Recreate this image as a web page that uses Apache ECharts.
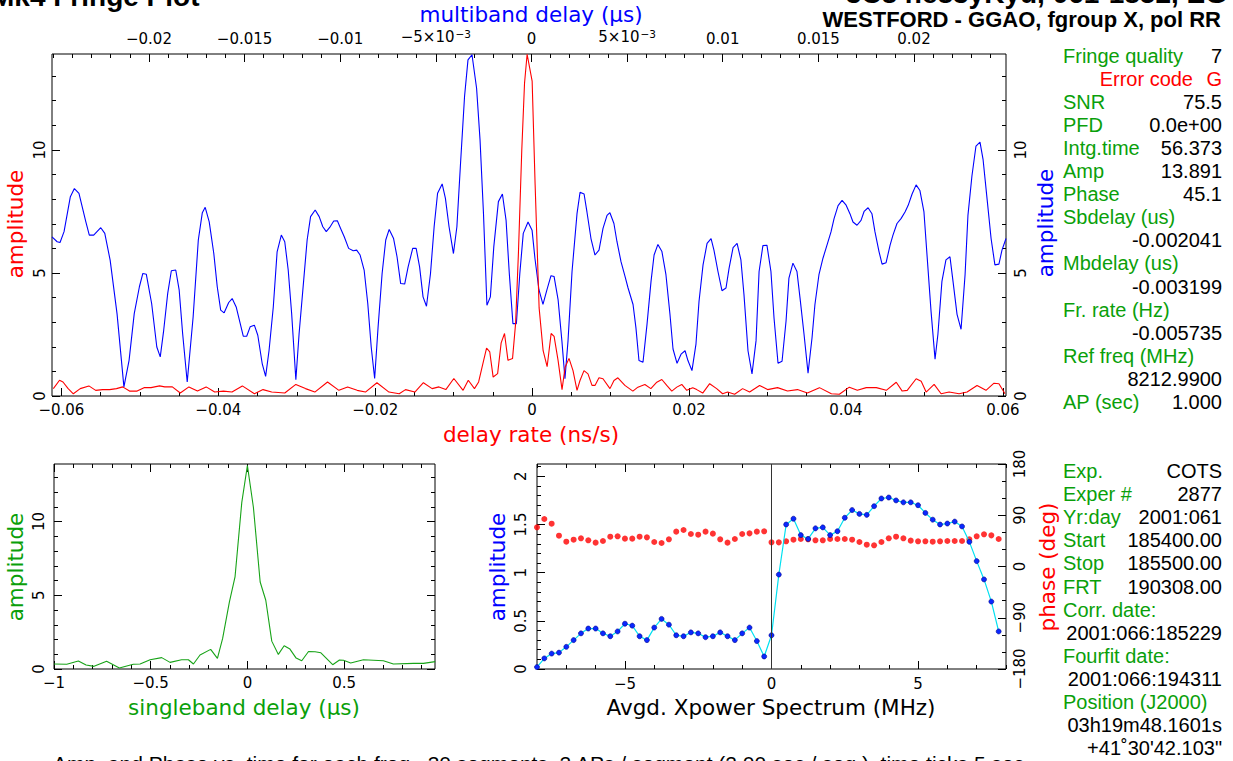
<!DOCTYPE html>
<html><head><meta charset="utf-8">
<script src="https://cdn.jsdelivr.net/npm/echarts@6/dist/echarts.min.js"></script>
<style>html,body{margin:0;padding:0;background:#fff}#c{width:1233px;height:761px}</style>
</head><body><div id="c"></div>
<script>
// ---------------- DATA ----------------
// delay-rate spectrum (ns/s, amplitude) - red
const rateCurve = [[-0.06103,0.30],[-0.06024,0.64],[-0.05980,0.57],[-0.05914,0.30],[-0.05848,0.09],[-0.05760,0.30],[-0.05650,0.41],[-0.05563,0.23],[-0.05475,0.26],[-0.05386,0.26],[-0.05298,0.30],[-0.05219,0.37],[-0.05132,0.20],[-0.05035,0.20],[-0.04947,0.34],[-0.04858,0.34],[-0.04749,0.41],[-0.04683,0.37],[-0.04586,0.37],[-0.04485,0.12],[-0.04375,0.37],[-0.04266,0.20],[-0.04155,0.37],[-0.04046,0.16],[-0.03935,0.20],[-0.03826,0.16],[-0.03694,0.41],[-0.03540,0.09],[-0.03430,0.26],[-0.03320,0.16],[-0.03153,0.12],[-0.03012,0.47],[-0.02889,0.30],[-0.02770,0.16],[-0.02608,0.57],[-0.02463,0.23],[-0.02352,0.37],[-0.02230,0.23],[-0.02125,0.16],[-0.01978,0.54],[-0.01825,0.16],[-0.01694,0.09],[-0.01614,0.26],[-0.01495,0.16],[-0.01386,0.54],[-0.01275,0.30],[-0.01188,0.37],[-0.01100,0.26],[-0.00998,0.71],[-0.00880,0.23],[-0.00814,0.64],[-0.00735,0.30],[-0.00682,0.57],[-0.00615,1.49],[-0.00581,1.95],[-0.00540,1.79],[-0.00497,0.77],[-0.00440,0.91],[-0.00395,2.16],[-0.00352,2.54],[-0.00308,1.45],[-0.00250,1.52],[-0.00211,2.94],[-0.00175,5.79],[-0.00132,10.0],[-0.00097,12.71],[-0.00064,13.89],[0,12.8],[0.00038,8.6],[0.00089,3.58],[0.00140,1.84],[0.00191,1.19],[0.00242,2.54],[0.00280,2.42],[0.00331,1.44],[0.00381,0.26],[0.00420,1.17],[0.00470,1.53],[0.00521,1.03],[0.00572,0.23],[0.00610,0.63],[0.00661,1.03],[0.00712,0.90],[0.00763,0.43],[0.00801,0.43],[0.00852,0.74],[0.00903,0.70],[0.00992,0.30],[0.01043,0.63],[0.01093,0.74],[0.01182,0.43],[0.01284,0.20],[0.01348,0.36],[0.01437,0.47],[0.01513,0.30],[0.01589,0.56],[0.01653,0.67],[0.01716,0.43],[0.01780,0.20],[0.01844,0.36],[0.01907,0.47],[0.01971,0.23],[0.02047,0.34],[0.02098,0.26],[0.02174,0.12],[0.02263,0.50],[0.02352,0.30],[0.02428,0.09],[0.02492,0.16],[0.02581,0.07],[0.02683,0.30],[0.02772,0.16],[0.02899,0.43],[0.03001,0.26],[0.03128,0.34],[0.03255,0.20],[0.03382,0.26],[0.03509,0.12],[0.03662,0.34],[0.03814,0.09],[0.03916,0.07],[0.04043,0.36],[0.04145,0.23],[0.04259,0.34],[0.04387,0.34],[0.04514,0.23],[0.04641,0.56],[0.04717,0.20],[0.04781,0.23],[0.04895,0.70],[0.04959,0.60],[0.05022,0.16],[0.05124,0.47],[0.05213,0.09],[0.05315,0.16],[0.05442,0.09],[0.05544,0.16],[0.05671,0.43],[0.05785,0.23],[0.05887,0.52],[0.05950,0.50],[0.06027,0.09]];

// multiband delay function (us, amplitude) - blue
const mbdCurve = [[-0.02507,6.47],[-0.02480,6.27],[-0.02465,6.24],[-0.02444,6.68],[-0.02411,8.10],[-0.02390,8.43],[-0.02366,8.24],[-0.02330,7.08],[-0.02312,6.54],[-0.02289,6.54],[-0.02252,6.84],[-0.02231,6.61],[-0.02203,5.52],[-0.02167,3.35],[-0.02131,0.37],[-0.02104,1.45],[-0.02077,3.35],[-0.02050,4.44],[-0.02032,4.98],[-0.02014,4.95],[-0.01986,3.76],[-0.01959,1.99],[-0.01941,1.59],[-0.01923,2.67],[-0.01902,4.17],[-0.01883,5.09],[-0.01860,5.12],[-0.01842,4.30],[-0.01824,2.54],[-0.01800,0.57],[-0.01769,3.22],[-0.01742,6.34],[-0.01721,7.45],[-0.01706,7.67],[-0.01685,7.08],[-0.01661,5.79],[-0.01643,4.44],[-0.01625,3.49],[-0.01607,3.38],[-0.01583,3.80],[-0.01565,3.96],[-0.01544,3.62],[-0.01525,3.01],[-0.01507,2.43],[-0.01489,2.43],[-0.01471,2.81],[-0.01449,2.88],[-0.01431,2.47],[-0.01408,1.32],[-0.01390,0.80],[-0.01372,1.86],[-0.01350,3.62],[-0.01330,5.86],[-0.01308,6.54],[-0.01290,6.27],[-0.01272,5.12],[-0.01254,3.35],[-0.01232,0.66],[-0.01215,2.54],[-0.01191,4.71],[-0.01173,6.34],[-0.01155,7.29],[-0.01131,7.56],[-0.01110,7.29],[-0.01091,6.88],[-0.01073,6.68],[-0.01055,6.85],[-0.01034,7.11],[-0.01015,7.12],[-0.00998,6.81],[-0.00979,6.47],[-0.00956,6.00],[-0.00932,5.90],[-0.00914,5.93],[-0.00896,5.73],[-0.00875,5.12],[-0.00856,3.76],[-0.00838,1.99],[-0.00820,0.71],[-0.00802,2.81],[-0.00781,4.98],[-0.00762,6.34],[-0.00744,6.77],[-0.00721,6.40],[-0.00703,5.66],[-0.00684,4.57],[-0.00663,4.55],[-0.00645,5.25],[-0.00621,6.00],[-0.00603,6.00],[-0.00585,5.25],[-0.00567,4.03],[-0.00549,3.65],[-0.00528,4.98],[-0.00509,6.88],[-0.00491,8.24],[-0.00467,8.62],[-0.00450,8.03],[-0.00431,6.88],[-0.00408,5.79],[-0.00390,6.88],[-0.00372,9.32],[-0.00350,12.17],[-0.00332,13.66],[-0.00311,13.87],[-0.00287,12.51],[-0.00269,10.41],[-0.00251,7.42],[-0.00233,3.69],[-0.00215,4.03],[-0.00197,6.07],[-0.00173,7.90],[-0.00152,8.21],[-0.00133,7.15],[-0.00116,4.98],[-0.00097,2.94],[-0.00079,2.94],[-0.00061,4.98],[-0.00043,6.61],[-0.00018,7.07],[0.00003,6.74],[0.00018,5.60],[0.00039,4.32],[0.00060,3.72],[0.00081,4.32],[0.00102,4.89],[0.00118,4.86],[0.00139,3.92],[0.00159,2.24],[0.00175,0.70],[0.00191,2.24],[0.00212,5.06],[0.00238,7.41],[0.00254,8.28],[0.00275,8.21],[0.00290,7.48],[0.00311,6.40],[0.00332,5.73],[0.00353,5.93],[0.00374,6.81],[0.00395,7.34],[0.00410,7.45],[0.00431,7.01],[0.00447,6.27],[0.00468,5.46],[0.00489,4.86],[0.00505,4.39],[0.00531,3.72],[0.00546,2.78],[0.00562,1.44],[0.00583,1.37],[0.00604,2.91],[0.00625,4.66],[0.00641,5.73],[0.00661,6.16],[0.00682,5.87],[0.00703,4.93],[0.00724,3.32],[0.00740,1.91],[0.00761,1.33],[0.00782,1.70],[0.00803,1.84],[0.00818,1.44],[0.00839,1.03],[0.00860,2.11],[0.00876,3.85],[0.00897,5.33],[0.00918,6.20],[0.00939,6.40],[0.00954,5.93],[0.00975,5.06],[0.00996,4.28],[0.01017,4.39],[0.01033,5.19],[0.01054,6.03],[0.01075,6.20],[0.01095,5.53],[0.01111,4.12],[0.01132,1.84],[0.01153,0.90],[0.01174,2.24],[0.01190,5.06],[0.01210,6.11],[0.01231,6.13],[0.01252,5.06],[0.01268,3.18],[0.01289,1.33],[0.01310,1.41],[0.01331,3.05],[0.01346,4.79],[0.01367,5.40],[0.01388,5.06],[0.01404,3.99],[0.01425,2.51],[0.01446,0.93],[0.01467,2.38],[0.01482,3.72],[0.01503,4.93],[0.01524,5.60],[0.01545,6.13],[0.01566,6.67],[0.01582,7.21],[0.01603,7.74],[0.01624,7.95],[0.01644,7.77],[0.01665,7.41],[0.01681,7.07],[0.01702,6.94],[0.01723,7.14],[0.01739,7.50],[0.01760,7.65],[0.01780,7.41],[0.01796,6.67],[0.01817,5.87],[0.01833,5.36],[0.01854,5.42],[0.01875,6.13],[0.01890,6.54],[0.01911,7.01],[0.01932,7.21],[0.01953,7.48],[0.01969,7.74],[0.01990,8.21],[0.02011,8.58],[0.02031,8.35],[0.02052,7.48],[0.02068,5.73],[0.02089,3.45],[0.02110,1.50],[0.02125,2.51],[0.02146,4.66],[0.02167,5.53],[0.02188,5.66],[0.02204,4.66],[0.02225,3.32],[0.02246,2.71],[0.02267,4.93],[0.02282,7.34],[0.02303,8.95],[0.02324,10.16],[0.02345,10.32],[0.02361,9.62],[0.02382,8.01],[0.02403,6.40],[0.02423,5.33],[0.02444,5.36],[0.02460,5.93],[0.02481,6.40]];

// singleband delay function (us, amplitude) - green
const sbdCurve = [[-1.0,0.34],[-0.934,0.32],[-0.874,0.54],[-0.834,0.27],[-0.793,0.18],[-0.728,0.52],[-0.662,0.07],[-0.59,0.32],[-0.555,0.34],[-0.503,0.63],[-0.443,0.77],[-0.4,0.45],[-0.34,0.63],[-0.305,0.63],[-0.279,0.34],[-0.245,0.95],[-0.19,1.33],[-0.155,0.72],[-0.128,2.07],[-0.093,4.55],[-0.064,6.24],[-0.029,11.3],[0,13.8],[0.031,10.97],[0.066,5.9],[0.095,4.66],[0.126,1.89],[0.16,0.99],[0.19,1.58],[0.22,1.35],[0.252,0.74],[0.281,0.56],[0.316,1.19],[0.35,1.17],[0.38,1.10],[0.441,0.29],[0.476,0.61],[0.497,0.59],[0.534,0.41],[0.6,0.63],[0.703,0.56],[0.755,0.34],[0.859,0.38],[0.91,0.38],[0.971,0.50]];

// cross-power spectrum
const freqMHz = [-8,-7.75,-7.5,-7.25,-7,-6.75,-6.5,-6.25,-6,-5.75,-5.5,-5.25,-5,-4.75,-4.5,-4.25,-4,-3.75,-3.5,-3.25,-3,-2.75,-2.5,-2.25,-2,-1.75,-1.5,-1.25,-1,-0.75,-0.5,-0.25,0,0.25,0.5,0.75,1,1.25,1.5,1.75,2,2.25,2.5,2.75,3,3.25,3.5,3.75,4,4.25,4.5,4.75,5,5.25,5.5,5.75,6,6.25,6.5,6.75,7,7.25,7.5,7.75];
const xpAmp = [0.02,0.11,0.16,0.17,0.23,0.30,0.37,0.42,0.42,0.37,0.34,0.39,0.47,0.45,0.34,0.30,0.43,0.52,0.46,0.35,0.34,0.38,0.37,0.33,0.34,0.38,0.34,0.30,0.37,0.43,0.29,0.13,0.35,0.98,1.50,1.56,1.39,1.35,1.46,1.47,1.39,1.43,1.57,1.65,1.61,1.60,1.69,1.77,1.78,1.75,1.73,1.73,1.70,1.62,1.55,1.50,1.51,1.53,1.48,1.32,1.12,0.93,0.70,0.39];
const xpPhase = [68.8,83.4,75.2,54.1,43.6,47.1,49.5,46.0,41.9,44.8,52.4,53.0,48.9,48.9,52.4,51.2,43.0,41.3,47.7,61.2,64.1,57.1,55.9,61.2,57.7,47.7,41.9,48.3,57.1,58.2,61.2,61.8,42.4,42.4,44.2,47.1,48.3,47.7,46.0,46.0,48.3,48.3,48.3,47.1,43.0,38.3,37.2,43.0,49.5,52.4,49.5,45.4,44.2,44.2,43.6,44.2,44.8,44.8,44.8,47.7,53.0,56.5,54.7,48.3];

// tick labels
const rateTicks = [-0.06,-0.04,-0.02,0,0.02,0.04,0.06];
const mbdTicks = [-0.02,-0.015,-0.01,-0.005,0,0.005,0.01,0.015,0.02];
const ampTicks = [0,5,10];
const sbdTicks = [-1,-0.5,0,0.5];
const freqTicks = [-5,0,5];
const xpAmpTicks = [0,0.5,1,1.5,2];
const phaseTicks = [-180,-90,0,90,180];

// text panels
const infoTop = [['Fringe quality','7'],['Error code','G'],['SNR','75.5'],['PFD','0.0e+00'],['Intg.time','56.373'],['Amp','13.891'],['Phase','45.1'],['Sbdelay (us)',''],['','-0.002041'],['Mbdelay (us)',''],['','-0.003199'],['Fr. rate (Hz)',''],['','-0.005735'],['Ref freq (MHz)',''],['','8212.9900'],['AP (sec)','1.000']];
const infoBottom = [['Exp.','COTS'],['Exper #','2877'],['Yr:day','2001:061'],['Start','185400.00'],['Stop','185500.00'],['FRT','190308.00'],['Corr. date:',''],['','2001:066:185229'],['Fourfit date:',''],['','2001:066:194311'],['Position (J2000)',''],['','03h19m48.1601s'],['','+41\u02DA30\'42.103"']];

// ---------------- BUILD ----------------
const HF = "'DejaVu Sans', sans-serif";
const AF = "'Liberation Sans', Arial, sans-serif";
const GREEN = '#0a9f0a';
const TS = 21.5; // axis title size
function seq(a, b, s) { const r = []; for (let v = a; v <= b + s * 1e-6; v += s) r.push(+v.toFixed(6)); return r; }
function fmt(v) { return v < 0 ? '\u2212' + String(+(-v).toFixed(6)) : String(+v.toFixed(6)); }
function fmtMbd(v) {
  if (Math.abs(Math.abs(v) - 0.005) < 1e-9) return (v < 0 ? '\u2212' : '') + '5\u00D710{sup|\u22123}';
  return fmt(v);
}
const xAxes = [], yAxes = [];
function axis(list, grid, pos, min, max, ticks, len, label) {
  list.push({
    type: 'value', gridIndex: grid, position: pos, min: min, max: max, silent: true, offset: 0,
    splitLine: {show: false}, splitArea: {show: false}, axisLine: {show: false, onZero: false},
    axisPointer: {show: false},
    axisTick: {show: true, inside: true, length: len, customValues: ticks, lineStyle: {color: '#000', width: 1}},
    axisLabel: label ? Object.assign({show: true, customValues: ticks, color: '#000', fontFamily: HF, fontSize: 15, formatter: fmt}, label) : {show: false}
  });
  return list.length - 1;
}
function minorsOf(a, b, s, majors) { return seq(a, b, s).filter(v => !majors.some(m => Math.abs(m - v) < 1e-9)); }

// grid 0 (top)
const R = [-0.0612, 0.0604], M = [-0.02507, 0.02481], A = [0, 13.9];
const xRate = axis(xAxes, 0, 'bottom', R[0], R[1], rateTicks, 8, {margin: 6});
axis(xAxes, 0, 'bottom', R[0], R[1], minorsOf(-0.06, 0.06, 0.005, rateTicks), 4);
const xMbd = axis(xAxes, 0, 'top', M[0], M[1], mbdTicks, 8, {margin: 8, formatter: fmtMbd, rich: {sup: {fontSize: 10.5, fontFamily: HF, color: '#000', verticalAlign: 'top', padding: [0, 0, 7, 1]}}});
axis(xAxes, 0, 'top', M[0], M[1], minorsOf(-0.025, 0.025, 0.001, mbdTicks), 4);
const yAmpL = axis(yAxes, 0, 'left', A[0], A[1], ampTicks, 8, {rotate: 90, margin: 5});
axis(yAxes, 0, 'left', A[0], A[1], minorsOf(0, 13, 1, ampTicks), 4);
const yAmpR = axis(yAxes, 0, 'right', A[0], A[1], ampTicks, 8, {rotate: 90, margin: 7});
axis(yAxes, 0, 'right', A[0], A[1], minorsOf(0, 13, 1, ampTicks), 4);

// grid 1 (singleband)
const S = [-1, 0.97];
const xSbd = axis(xAxes, 1, 'bottom', S[0], S[1], sbdTicks, 8, {margin: 6});
axis(xAxes, 1, 'bottom', S[0], S[1], minorsOf(-1, 0.9, 0.1, sbdTicks), 4);
axis(xAxes, 1, 'top', S[0], S[1], sbdTicks, 8);
axis(xAxes, 1, 'top', S[0], S[1], minorsOf(-1, 0.9, 0.1, sbdTicks), 4);
const ySbd = axis(yAxes, 1, 'left', A[0], A[1], ampTicks, 8, {rotate: 90, margin: 8});
axis(yAxes, 1, 'left', A[0], A[1], minorsOf(0, 13, 1, ampTicks), 4);
axis(yAxes, 1, 'right', A[0], A[1], ampTicks, 8);
axis(yAxes, 1, 'right', A[0], A[1], minorsOf(0, 13, 1, ampTicks), 4);

// grid 2 (xpower)
const F = [-8, 8], XA = [0, 2.128], PH = [-180, 180];
const xFreq = axis(xAxes, 2, 'bottom', F[0], F[1], freqTicks, 8, {margin: 7});
axis(xAxes, 2, 'bottom', F[0], F[1], minorsOf(-8, 8, 1, freqTicks), 4);
axis(xAxes, 2, 'top', F[0], F[1], freqTicks, 8);
axis(xAxes, 2, 'top', F[0], F[1], minorsOf(-8, 8, 1, freqTicks), 4);
const yXpA = axis(yAxes, 2, 'left', XA[0], XA[1], xpAmpTicks, 8, {rotate: 90, margin: 9});
axis(yAxes, 2, 'left', XA[0], XA[1], minorsOf(0, 2.1, 0.1, xpAmpTicks), 4);
const yPh = axis(yAxes, 2, 'right', PH[0], PH[1], phaseTicks, 8, {rotate: 90, margin: 6});
axis(yAxes, 2, 'right', PH[0], PH[1], minorsOf(-180, 180, 30, phaseTicks), 4);

const gridBase = {show: true, borderColor: '#000', borderWidth: 1, backgroundColor: 'rgba(0,0,0,0)', containLabel: false, outerBoundsMode: 'none'};
const grids = [
  Object.assign({left: 52, top: 54, width: 954, height: 342}, gridBase),
  Object.assign({left: 54, top: 464, width: 381, height: 205}, gridBase),
  Object.assign({left: 537, top: 464, width: 469, height: 205}, gridBase)
];

const series = [
  {type: 'line', name: 'mbd', xAxisIndex: xMbd, yAxisIndex: yAmpR, data: mbdCurve, showSymbol: false, symbol: 'none', lineStyle: {color: '#0000ff', width: 1.1}, silent: true},
  {type: 'line', name: 'rate', xAxisIndex: xRate, yAxisIndex: yAmpL, data: rateCurve, showSymbol: false, symbol: 'none', lineStyle: {color: '#ff0000', width: 1.1}, silent: true},
  {type: 'line', name: 'sbd', xAxisIndex: xSbd, yAxisIndex: ySbd, data: sbdCurve, showSymbol: false, symbol: 'none', lineStyle: {color: '#17a317', width: 1.1}, silent: true},
  {type: 'scatter', name: 'phase', xAxisIndex: xFreq, yAxisIndex: yPh, data: freqMHz.map((f, i) => [f, xpPhase[i]]), symbol: 'circle', symbolSize: 6, itemStyle: {color: '#ff0000'}, silent: true},
  {type: 'line', name: 'xamp', xAxisIndex: xFreq, yAxisIndex: yXpA, data: freqMHz.map((f, i) => [f, xpAmp[i]]), symbol: 'circle', symbolSize: 5, showSymbol: true,
   lineStyle: {color: '#00e0f0', width: 1.2}, itemStyle: {color: '#0a28ff', borderColor: '#00008a', borderWidth: 0.6}, silent: true,
   markLine: {silent: true, symbol: ['none', 'none'], label: {show: false}, lineStyle: {color: '#333', width: 1, type: 'solid'}, data: [{xAxis: 0}]}}
];

// texts
const G = [];
function T(s, x, y, o) {
  o = o || {};
  G.push({type: 'text', x: x, y: y, rotation: o.rot || 0, silent: true, z: 10,
    style: {text: s, fill: o.c || '#000', fontSize: o.fs || 20, fontFamily: o.ff || AF, fontWeight: o.fw || 'normal', align: o.a || 'left', verticalAlign: 'middle'}});
}
T('Mk4 Fringe Plot', -9, -4, {fs: 28, fw: 'bold'});
T('3C8 ne83yKyu, 061-1852, EG', 1227, -7, {fs: 28, fw: 'bold', a: 'right'});
T('WESTFORD - GGAO, fgroup X, pol RR', 1221, 19, {fs: 22, fw: 'bold', a: 'right'});
T('multiband delay (\u03BCs)', 531, 14, {fs: TS, ff: HF, c: '#0000ff', a: 'center'});
T('delay rate (ns/s)', 531, 434, {fs: TS, ff: HF, c: '#ff0000', a: 'center'});
T('amplitude', 15, 224, {fs: TS, ff: HF, c: '#ff0000', a: 'center', rot: Math.PI / 2});
T('amplitude', 1045, 223, {fs: TS, ff: HF, c: '#0000ff', a: 'center', rot: Math.PI / 2});
T('amplitude', 15, 567, {fs: TS, ff: HF, c: GREEN, a: 'center', rot: Math.PI / 2});
T('singleband delay (\u03BCs)', 244, 707, {fs: TS, ff: HF, c: GREEN, a: 'center'});
T('amplitude', 497, 567, {fs: TS, ff: HF, c: '#0000ff', a: 'center', rot: Math.PI / 2});
T('phase (deg)', 1047, 567, {fs: TS, ff: HF, c: '#ff0000', a: 'center', rot: Math.PI / 2});
T('Avgd. Xpower Spectrum (MHz)', 771, 707, {fs: TS, ff: HF, c: '#000', a: 'center'});
T('Amp. and Phase vs. time for each freq., 30 segments, 2 APs / segment (2.00 sec / seg.), time ticks 5 sec', 53, 763, {fs: 21});

infoTop.forEach((r, i) => {
  const y = 56 + i * 23.05;
  if (r[0] === 'Error code') {
    T(r[0], 1193, y, {c: '#ff0000', a: 'right'});
    T(r[1], 1222, y, {c: '#ff0000', a: 'right'});
    return;
  }
  if (r[0]) T(r[0], 1063, y, {c: GREEN});
  if (r[1]) T(r[1], 1222, y, {a: 'right'});
});
infoBottom.forEach((r, i) => {
  const y = 471 + i * 23.1;
  if (r[0]) T(r[0], 1063, y, {c: GREEN});
  if (r[1]) T(r[1], 1222, y, {a: 'right'});
});

const chart = echarts.init(document.getElementById('c'), null, {renderer: 'svg', width: 1233, height: 761});
chart.setOption({
  animation: false,
  backgroundColor: '#fff',
  grid: grids,
  xAxis: xAxes,
  yAxis: yAxes,
  series: series,
  graphic: {elements: G}
});
</script>
</body></html>
